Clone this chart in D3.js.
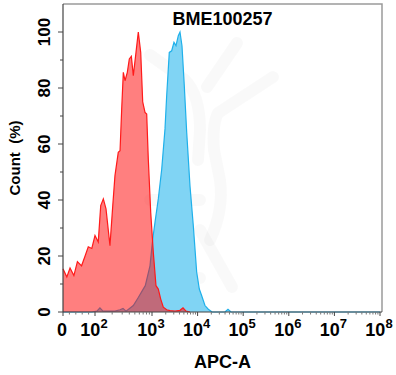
<!DOCTYPE html>
<html>
<head>
<meta charset="utf-8">
<script src="https://cdn.jsdelivr.net/npm/d3@7"></script>
<style>
  body { margin: 0; background: #fff; }
  text { font-family: Arial, "Liberation Sans", sans-serif; font-weight: bold; fill: #000; }
</style>
</head>
<body>
<script>
// histogram samples: APC-A value, count (%)
var redX = [0, 12, 22, 34, 45, 58, 69, 79, 90, 100, 114, 126, 140, 156, 183, 205, 224, 256, 275, 294, 314, 336, 369, 400, 434, 470, 524, 575, 634, 687, 754, 807, 861, 949, 1068, 1224, 1375, 1553, 1770, 2100, 2483, 3194, 4110, 4786, 5570, 6810];
var redY = [15.4, 12.5, 15.7, 13, 18, 16.5, 20, 23.3, 22.7, 27.3, 25, 38, 40.4, 36.8, 23.7, 38, 48.7, 57, 57.6, 72.5, 85.6, 82.6, 85.6, 90.4, 91.3, 84.4, 92.7, 100, 92.7, 75, 71.3, 70.7, 54.6, 35.6, 21.3, 9.4, 8.2, 4.6, 1.7, 0.8, 0.5, 0.3, 0.6, 1.5, 0.3, 0];

var blueX = [0, 90, 108, 122, 138, 224, 275, 310, 350, 470, 575, 649, 762, 922, 1036, 1163, 1375, 1633, 1928, 2100, 2394, 2702, 3035, 3357, 3774, 4110, 4548, 5107, 5765, 6810, 8051, 9552, 10900, 12300, 14500, 17170, 20700, 39800, 46400, 54000, 1e8];
var blueY = [0, 0, 0.3, 1.5, 0.3, 0.3, 0.8, 1.3, 0.3, 2.3, 5.2, 7, 9.4, 16.5, 26, 32, 40.4, 51, 65.4, 77.3, 92.7, 93.3, 96.3, 95.1, 98.7, 100, 95, 80.8, 64.2, 45, 30.8, 14.2, 8.2, 5.8, 2.3, 1, 0, 0, 1, 0, 0];

var yTicks = [0, 20, 40, 60, 80, 100];
var xTickValues = [0, 100, 1000, 1e4, 1e5, 1e6, 1e7, 1e8];
var xTickPowers = [null, 2, 3, 4, 5, 6, 7, 8];

var title = "BME100257";
var xTitle = "APC-A";
var yTitle = "Count  (%)";

var width = 396, height = 375;
var pLeft = 63, pRight = 382, pTop = 4, pBottom = 312;

var svg = d3.select("body").append("svg")
    .attr("width", width)
    .attr("height", height);

// display scale: linear below 100, log decades above (10^2-10^3 drawn wider)
var xs = d3.scaleLinear().domain([0, 2, 3, 8]).range([pLeft, 95, 152, 380]);
function x(v) {
    var u = v < 100 ? v / 50 : Math.log10(v);
    return xs(u);
}
var y = d3.scaleLinear().domain([0, 110]).range([pBottom, pTop]);

// faint watermark
var wm = svg.append("g")
    .attr("fill", "none")
    .attr("stroke", "#000")
    .attr("stroke-opacity", 0.025)
    .attr("stroke-width", 12)
    .attr("stroke-linecap", "round")
    .attr("stroke-linejoin", "round");
wm.append("path").attr("d", "M237,43 L207,87");
wm.append("path").attr("d", "M273,77 L218,113 Q212,125 214,150 L220,180 Q224,210 210,240");
wm.append("path").attr("d", "M150,55 L185,80 Q200,95 200,130 L198,160");
wm.append("path").attr("d", "M200,230 L232,287");
wm.append("path").attr("d", "M150,200 L200,200");
wm.append("path").attr("d", "M155,260 L185,290");
wm.append("path").attr("d", "M190,278 L200,278");

var area = d3.area()
    .x(function(d) { return x(d[0]); })
    .y0(y(0))
    .y1(function(d) { return y(d[1]); });
var line = d3.line()
    .x(function(d) { return x(d[0]); })
    .y(function(d) { return y(d[1]); });

var blueData = d3.zip(blueX, blueY);
var redData = d3.zip(redX, redY);

svg.append("path").datum(blueData)
    .attr("d", area)
    .attr("fill", "#80d4f4");
svg.append("path").datum(blueData)
    .attr("d", line)
    .attr("fill", "none")
    .attr("stroke", "#1fb0ea")
    .attr("stroke-width", 1.2);

svg.append("path").datum(redData)
    .attr("d", area)
    .attr("fill", "#ff0000")
    .attr("fill-opacity", 0.5);
svg.append("path").datum(redData)
    .attr("d", line)
    .attr("fill", "none")
    .attr("stroke", "#ff1a1a")
    .attr("stroke-width", 1.2);

// frame top / right
svg.append("path")
    .attr("d", "M" + pLeft + "," + pTop + "H" + pRight + "V" + pBottom)
    .attr("fill", "none")
    .attr("stroke", "#9a9a9a")
    .attr("stroke-width", 1.5);

// y axis
var yMinor = d3.range(10, 110, 20);
var yAxis = svg.append("g").attr("transform", "translate(" + pLeft + ",0)");
yAxis.append("line").attr("y1", pTop).attr("y2", pBottom).attr("stroke", "#444").attr("stroke-width", 1.2);
yAxis.selectAll(".maj").data(yTicks).enter().append("line")
    .attr("x1", -5).attr("x2", 0)
    .attr("y1", function(d) { return y(d); }).attr("y2", function(d) { return y(d); })
    .attr("stroke", "#444");
yAxis.selectAll(".min").data(yMinor).enter().append("line")
    .attr("x1", -3).attr("x2", 0)
    .attr("y1", function(d) { return y(d); }).attr("y2", function(d) { return y(d); })
    .attr("stroke", "#444");
yAxis.selectAll("text").data(yTicks).enter().append("text")
    .attr("transform", function(d) { return "translate(-13," + y(d) + ") rotate(-90)"; })
    .attr("text-anchor", "middle")
    .style("font-size", "17px")
    .text(function(d) { return d; });

// x axis
var xMinor = [20, 40, 60, 80];
d3.range(2, 8).forEach(function(p) {
    for (var k = 2; k < 10; k++) xMinor.push(k * Math.pow(10, p));
});
var xAxis = svg.append("g").attr("transform", "translate(0," + pBottom + ")");
xAxis.append("line").attr("x1", pLeft).attr("x2", pRight).attr("stroke", "#444").attr("stroke-width", 1.2);
xAxis.selectAll(".maj").data(xTickValues).enter().append("line")
    .attr("x1", function(d) { return x(d); }).attr("x2", function(d) { return x(d); })
    .attr("y1", 0).attr("y2", 4)
    .attr("stroke", "#444");
xAxis.selectAll(".min").data(xMinor).enter().append("line")
    .attr("x1", function(d) { return x(d); }).attr("x2", function(d) { return x(d); })
    .attr("y1", 0).attr("y2", 2.5)
    .attr("stroke", "#777");

var labels = xAxis.selectAll("text").data(xTickValues).enter().append("text")
    .attr("x", function(d) { return x(d) - 1; })
    .attr("y", 24)
    .attr("text-anchor", "middle")
    .style("font-size", "18px");
labels.each(function(d, i) {
    var t = d3.select(this);
    if (xTickPowers[i] === null) {
        t.text("0");
    } else {
        t.append("tspan").text("10");
        t.append("tspan").attr("dy", -8).style("font-size", "13px").text(xTickPowers[i]);
    }
});

// titles
svg.append("text")
    .attr("x", (pLeft + pRight) / 2).attr("y", 25)
    .attr("text-anchor", "middle")
    .style("font-size", "18px")
    .text(title);
svg.append("text")
    .attr("x", (pLeft + pRight) / 2).attr("y", 368)
    .attr("text-anchor", "middle")
    .style("font-size", "18px")
    .text(xTitle);
svg.append("text")
    .attr("transform", "translate(20," + (pBottom + pTop) / 2 + ") rotate(-90)")
    .attr("text-anchor", "middle")
    .style("font-size", "15px")
    .style("white-space", "pre")
    .text(yTitle);
</script>
</body>
</html>
